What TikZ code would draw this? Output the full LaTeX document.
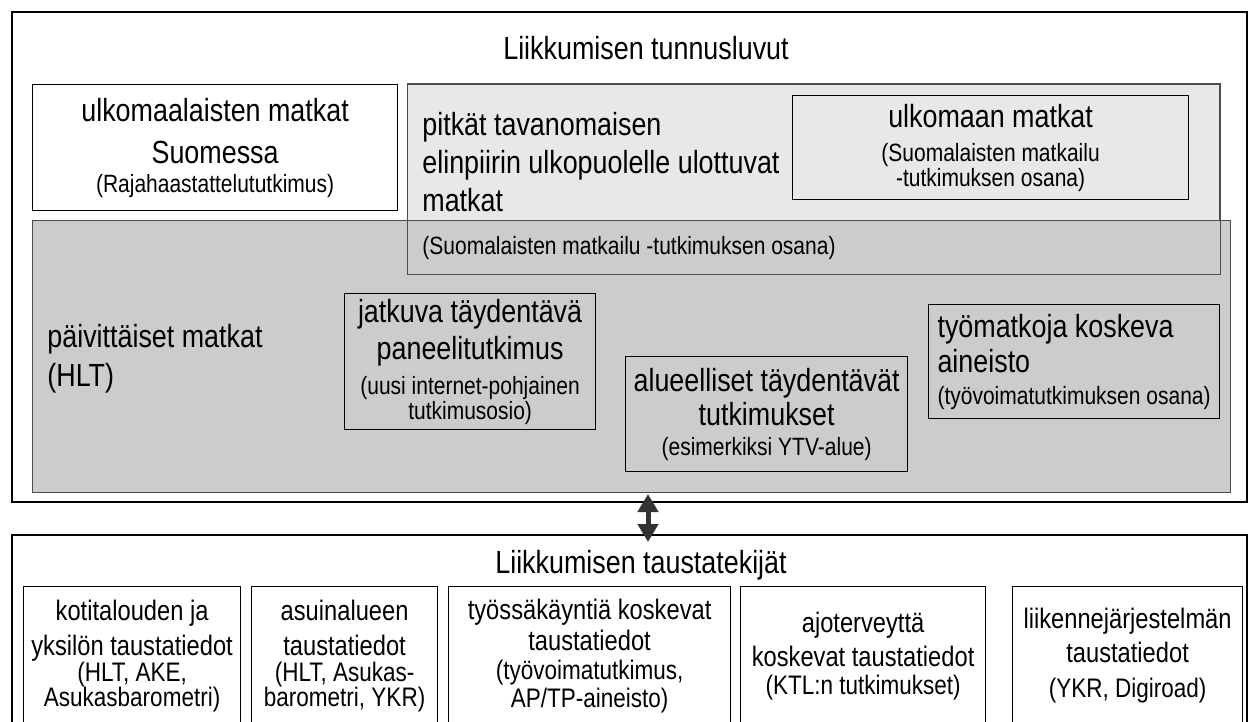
\documentclass[tikz,border=0pt]{standalone}
\usepackage{fontspec}
\setmainfont{Liberation Sans}[FakeStretch=0.84]
\usepackage{xcolor}
\usepackage{tikz}
\usetikzlibrary{arrows.meta, positioning}

\definecolor{lightzone}{gray}{0.91}
\definecolor{darkzone}{gray}{0.80}
\newcommand{\bigtxt}{\fontsize{16}{19}\selectfont}
\newcommand{\smtxt}{\fontsize{12.5}{14}\selectfont}
\newcommand{\botbig}{\fontsize{14.1}{17}\selectfont}
\newcommand{\botsm}{\fontsize{13.4}{15}\selectfont}

\begin{document}
\begin{tikzpicture}[x=0.5pt, y=-0.5pt,
    outerframe/.style={draw, line width=1pt, inner sep=0pt, anchor=north west},
    zone/.style={draw=black!70, line width=0.5pt, inner sep=0pt, anchor=north west},
    box/.style={draw, line width=0.6pt, inner sep=0pt, align=center, anchor=north west, font=\bigtxt},
    botbox/.style={draw, line width=0.6pt, inner sep=0pt, align=center, anchor=north west,
        font=\botbig, minimum height=69pt},
    txt/.style={inner sep=0pt, font=\bigtxt},
    smalltxt/.style={inner sep=0pt, font=\smtxt},
    dblarrow/.style={{Triangle[width=10pt,length=9pt]}-{Triangle[width=10pt,length=9pt]},
        line width=2.5pt, draw=black!80}]
    \useasboundingbox (0,0) rectangle (1248,722);

    % Upper frame
    \node[outerframe, minimum width=617.5pt, minimum height=245pt] (tunnus) at (11,11) {};
    \node[txt, anchor=base] (tunnusotsikko) at ([shift={(16.5,49)}]tunnus.north) {Liikkumisen tunnusluvut};

    % Shaded areas
    \node[zone, fill=lightzone, minimum width=406pt, minimum height=94.5pt] (pitkat) at (407,84) {};
    \node[zone, fill=darkzone, minimum width=599pt, minimum height=136pt] (paivittaiset) at (32,220) {};
    \draw[draw=black!70, line width=0.5pt] (pitkat.north west) rectangle (pitkat.south east);

    \node[txt, anchor=north west, align=left] (pitkatteksti) at ([shift={(15,28)}]pitkat.north west)
        {pitkät tavanomaisen\\elinpiirin ulkopuolelle ulottuvat\\matkat};
    \node[smalltxt, anchor=base west] (pitkatlahde) at ([shift={(15,-20)}]pitkat.south west)
        {(Suomalaisten matkailu -tutkimuksen osana)};
    \node[txt, anchor=west, align=left] (paivteksti) at ([shift={(15,2)}]paivittaiset.west)
        {päivittäiset matkat\\[0.5pt](HLT)};

    % Boxes in the upper frame
    \node[box, fill=white, minimum width=182.5pt, minimum height=63pt] (ulkomaalaiset) at (32,84)
        {ulkomaalaisten matkat\\[2pt]Suomessa\\[-4.5pt]{\smtxt (Rajahaastattelututkimus)}};
    \node[box, minimum width=198pt, minimum height=52pt] (ulkomaan) at (792,95)
        {ulkomaan matkat\\[-2pt]{\smtxt (Suomalaisten matkailu}\\[-6.5pt]{\smtxt -tutkimuksen osana)}};
    \node[box, minimum width=125.5pt, minimum height=68pt] (jatkuva) at (344,293)
        {jatkuva täydentävä\\[-0.5pt]paneelitutkimus\\[-1.5pt]{\smtxt (uusi internet-pohjainen}\\[-6.5pt]{\smtxt tutkimusosio)}};
    \node[box, minimum width=141pt, minimum height=57.5pt] (alueelliset) at (625,356)
        {alueelliset täydentävät\\[-2pt]tutkimukset\\[-4pt]{\smtxt (esimerkiksi YTV-alue)}};
    \node[box, align=left, minimum width=145.5pt, minimum height=57pt] (tyomatkat) at (928,304)
        {työmatkoja koskeva\\[-1.5pt]aineisto\\[-3pt]{\smtxt (työvoimatutkimuksen osana)}};

    % Lower frame
    \node[outerframe, minimum width=617.5pt, minimum height=103pt] (tausta) at (11,534) {};
    \node[txt, anchor=base] (taustaotsikko) at ([shift={(11.5,39)}]tausta.north) {Liikkumisen taustatekijät};

    \node[botbox, minimum width=108.5pt] (kotitalous) at (23,586)
        {kotitalouden ja\\[0.5pt]yksilön taustatiedot\\[-4pt]{\botsm (HLT, AKE,}\\[-4.5pt]{\botsm Asukasbarometri)}};
    \node[botbox, minimum width=93pt] (asuinalue) at (251,586)
        {asuinalueen\\[0.5pt]taustatiedot\\[-4pt]{\botsm (HLT, Asukas-}\\[-4.5pt]{\botsm barometri, YKR)}};
    \node[botbox, minimum width=141pt] (tyossakaynti) at (448,586)
        {työssäkäyntiä koskevat\\[-1.5pt]taustatiedot\\[-2.5pt]{\botsm (työvoimatutkimus,}\\[-3pt]{\botsm AP/TP-aineisto)}};
    \node[botbox, minimum width=122.5pt] (ajoterveys) at (740,586)
        {ajoterveyttä\\koskevat taustatiedot\\[-3pt]{\botsm (KTL:n tutkimukset)}};
    \node[botbox, minimum width=115pt] (liikenne) at (1012,586)
        {liikennejärjestelmän\\taustatiedot\\[0.5pt]{\botsm (YKR, Digiroad)}};

    % Link between the frames
    \draw[dblarrow] ([shift={(18.5,-9)}]tunnus.south) -- ([shift={(18.5,8)}]tausta.north);
\end{tikzpicture}
\end{document}
